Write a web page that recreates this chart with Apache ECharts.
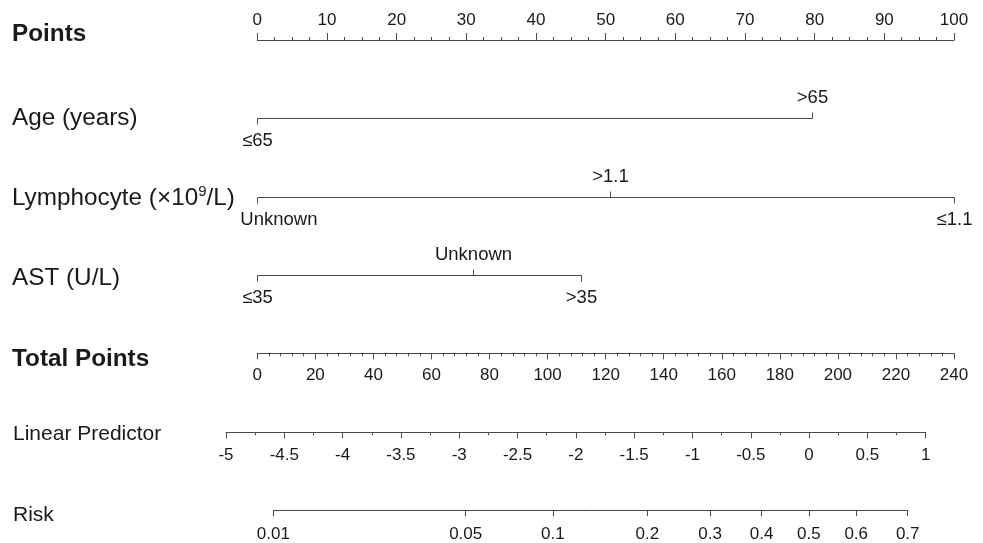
<!DOCTYPE html>
<html><head><meta charset="utf-8">
<script src="https://cdn.jsdelivr.net/npm/echarts@6/dist/echarts.min.js"></script>
<style>html,body{margin:0;padding:0;background:#fff}#c{width:983px;height:543px}</style>
</head><body><div id="c"></div>
<script>
// ---- data ----
const rowTitles = ['Points', 'Age (years)', 'Lymphocyte (×10{sup|9}/L)', 'AST (U/L)', 'Total Points'];
const rowBold = [true, false, false, false, true];
const ageLevels = ['≤65', '>65'];
const agePoints = [0, 79.6];
const lymphLevels = ['Unknown', '>1.1', '≤1.1'];
const lymphPoints = [0, 50.6, 100];
const astLevels = ['≤35', 'Unknown', '>35'];
const astPoints = [0, 31.0, 46.5];
const pointsRange = [0, 100, 10];
const totalRange = [0, 240, 20];
const lpRange = [-5, 1, 0.5];
const riskTicks = [0.01, 0.05, 0.1, 0.2, 0.3, 0.4, 0.5, 0.6, 0.7];
const lpTitle = 'Linear Predictor';
const riskTitle = 'Risk';

// ---- styling ----
const FONT = '"Liberation Sans", Arial, Helvetica, sans-serif';
const axisColor = '#4a4a4a';
const textColor = '#1a1a1a';
const tickFont = 17;
const levelFont = 18.5;

const variables = [
  { row: 1, levels: ageLevels, points: agePoints },
  { row: 2, levels: lymphLevels, points: lymphPoints },
  { row: 3, levels: astLevels, points: astPoints }
];
const logit = p => Math.log(p / (1 - p));

const measureCtx = document.createElement('canvas').getContext('2d');
function textWidth(t, size) { measureCtx.font = size + 'px ' + FONT; return measureCtx.measureText(t).width; }

function renderItem(params, api) {
  const v = variables[params.dataIndex];
  const row = api.value(1);
  const y0 = Math.round(api.coord([0, row])[1]) + 0.5;
  const xStart = api.coord([0, row])[0];
  const xs = v.points.map(p => Math.round(api.coord([p, row])[0]) + 0.5);
  const xMin = Math.min(...xs), xMax = Math.max(...xs);
  const order = v.points.map((p, i) => i).sort((a, b) => v.points[a] - v.points[b]);
  const children = [{ type: 'line', shape: { x1: xMin, y1: y0, x2: xMax, y2: y0 }, style: { stroke: axisColor, lineWidth: 1 } }];
  order.forEach((idx, k) => {
    const dir = k % 2 === 0 ? 1 : -1;
    const x = xs[idx];
    children.push({ type: 'line', shape: { x1: x, y1: y0, x2: x, y2: y0 + dir * 6 }, style: { stroke: axisColor, lineWidth: 1 } });
    const w = textWidth(v.levels[idx], levelFont);
    const left = Math.max(x - w / 2, xStart - 17);
    children.push({ type: 'text', style: { text: v.levels[idx], x: left, y: y0 + (dir > 0 ? 22.5 : -20.5), align: 'left', verticalAlign: 'middle', fontSize: levelFont, fontFamily: FONT, fill: textColor } });
  });
  return { type: 'group', children };
}

const titleY = [34.5, 118.5, 198, 278.5, 359];
const graphics = rowTitles.map((t, i) => ({
  type: 'text', left: 12, top: titleY[i] - 14,
  style: {
    text: t, fontSize: 24.3, fontWeight: rowBold[i] ? 'bold' : 'normal', fontFamily: FONT, fill: textColor,
    lineHeight: 28, verticalAlign: 'top',
    rich: { sup: { fontSize: 15, fontFamily: FONT, fill: textColor, padding: [0, 0, 12, 0] } }
  }
}));
graphics.push({ type: 'text', left: 13, top: 434 - 12, style: { text: lpTitle, fontSize: 21, fontFamily: FONT, fill: textColor, lineHeight: 24 } });
graphics.push({ type: 'text', left: 13, top: 515 - 12, style: { text: riskTitle, fontSize: 21, fontFamily: FONT, fill: textColor, lineHeight: 24 } });

const axisLine = { show: true, onZero: false, lineStyle: { color: axisColor, width: 1 } };
const labelStyle = { color: textColor, fontSize: tickFont, fontFamily: FONT, showMinLabel: true, showMaxLabel: true, hideOverlap: false };

const option = {
  animation: false,
  backgroundColor: '#fff',
  grid: [
    { left: 257.3, right: 29, top: 40, bottom: 543 - 353.3 },
    { left: 226, right: 983 - 925.7, top: 432.3, height: 0 },
    { left: 273.3, right: 983 - 907.7, top: 510, height: 0 }
  ],
  xAxis: [
    { gridIndex: 0, type: 'value', position: 'top', min: pointsRange[0], max: pointsRange[1], interval: pointsRange[2],
      axisLine, splitLine: { show: false },
      axisTick: { show: true, length: 7, lineStyle: { color: axisColor } },
      minorTick: { show: true, splitNumber: 4, length: 3, lineStyle: { color: axisColor } },
      axisLabel: Object.assign({ margin: 11 }, labelStyle) },
    { gridIndex: 0, type: 'value', position: 'bottom', min: totalRange[0], max: totalRange[1], interval: totalRange[2],
      axisLine, splitLine: { show: false },
      axisTick: { show: true, length: 6, lineStyle: { color: axisColor } },
      minorTick: { show: true, splitNumber: 5, length: 3, lineStyle: { color: axisColor } },
      axisLabel: Object.assign({ margin: 14 }, labelStyle) },
    { gridIndex: 1, type: 'value', position: 'bottom', min: lpRange[0], max: lpRange[1], interval: lpRange[2],
      axisLine, splitLine: { show: false },
      axisTick: { show: true, length: 6, lineStyle: { color: axisColor } },
      minorTick: { show: true, splitNumber: 2, length: 3, lineStyle: { color: axisColor } },
      axisLabel: Object.assign({ margin: 15 }, labelStyle) },
    { gridIndex: 2, type: 'value', position: 'bottom', min: logit(riskTicks[0]), max: logit(riskTicks[riskTicks.length - 1]),
      axisLine, splitLine: { show: false },
      axisTick: { show: true, length: 6, lineStyle: { color: axisColor }, customValues: riskTicks.map(logit) },
      axisLabel: Object.assign({ margin: 16, customValues: riskTicks.map(logit),
        formatter: v => { const p = 1 / (1 + Math.exp(-v)); let best = riskTicks[0]; riskTicks.forEach(r => { if (Math.abs(r - p) < Math.abs(best - p)) best = r; }); return String(best); } }, labelStyle) }
  ],
  yAxis: [
    { gridIndex: 0, type: 'value', min: 0, max: 4, inverse: true, show: false },
    { gridIndex: 1, type: 'value', min: 0, max: 1, show: false },
    { gridIndex: 2, type: 'value', min: 0, max: 1, show: false }
  ],
  graphic: graphics,
  series: [{
    type: 'custom', xAxisIndex: 0, yAxisIndex: 0, renderItem,
    data: variables.map(v => [0, v.row]), silent: true
  }]
};
const chart = echarts.init(document.getElementById('c'), null, { renderer: 'canvas' });
chart.setOption(option);
</script></body></html>
